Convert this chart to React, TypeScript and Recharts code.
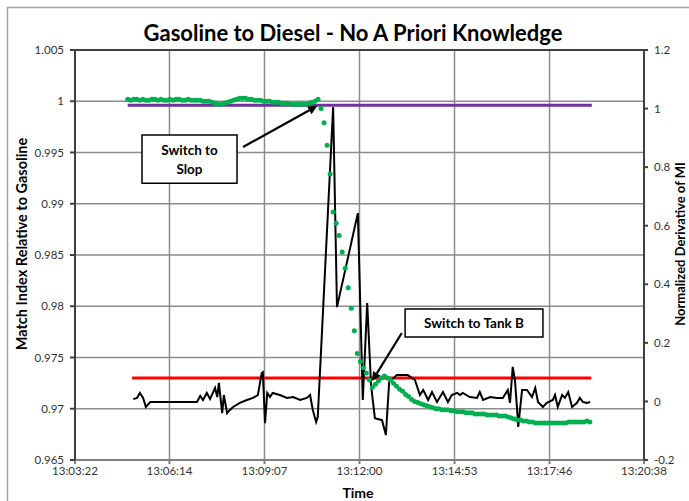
import {
  ComposedChart,
  XAxis,
  YAxis,
  CartesianGrid,
  Line,
  Scatter,
  ReferenceArea,
  ReferenceLine,
} from "recharts";

// x axis: clock time, plotted as seconds after the first tick
const timeTicks = ["13:03:22", "13:06:14", "13:09:07", "13:12:00", "13:14:53", "13:17:46", "13:20:38"];
const toSec = (s: string) => {
  const [h, m, sec] = s.split(":").map(Number);
  return h * 3600 + m * 60 + sec;
};
const t0 = toSec(timeTicks[0]);
const tickSecs = timeTicks.map((s) => toSec(s) - t0);

const matchTicks = [0.965, 0.97, 0.975, 0.98, 0.985, 0.99, 0.995, 1, 1.005];
const derivTicks = [-0.2, 0, 0.2, 0.4, 0.6, 0.8, 1, 1.2];

// match index (green), sampled every 5.5 s starting 96 s after 13:03:22
const matchStart = 96;
const matchStep = 5.5;
const matchIndex = [
  1.0002, 1.0001, 1.0002, 1.0002, 1.0001, 1.0002, 1.0001, 1.0001, 1.0002, 1.0002,
  1.0001, 1.0002, 1.0001, 1.0001, 1.0002, 1.0001, 1.0002, 1.0002, 1.0001, 1.0001,
  1.0002, 1.0001, 1.0001, 1.0001, 1.0001, 1.0, 1.0, 1.0,
  0.9999, 0.9998, 0.9997, 0.9997, 0.9998, 0.9999,
  1.0, 1.0001, 1.0002, 1.0003, 1.0003, 1.0003, 1.0002, 1.0002, 1.0001,
  1.0001, 1.0001, 1.0, 1.0, 1.0, 0.9999, 0.9999, 0.9999, 0.9998, 0.9998, 0.9998, 0.9997, 0.9997, 0.9997,
  0.9997, 0.9997, 0.9997, 0.9998, 0.9999, 1.0,
  1.0002,
  0.9993, 0.9979, 0.9957, 0.9929, 0.9892, 0.9881, 0.9869, 0.9853, 0.9837, 0.9818,
  0.9798, 0.9776, 0.9754, 0.9746, 0.974, 0.9735, 0.9728, 0.9721,
  0.9724, 0.9727, 0.973, 0.9732,
  0.973, 0.9728, 0.9725, 0.9722, 0.9719, 0.9717, 0.9714, 0.9712, 0.9709, 0.9707,
  0.9706, 0.9705, 0.9704, 0.9703, 0.9702, 0.9701, 0.97,
  0.97, 0.9699, 0.9699, 0.9699, 0.9698, 0.9698, 0.9697, 0.9697, 0.9697, 0.9696,
  0.9696, 0.9696, 0.9695, 0.9695, 0.9695,
  0.9695, 0.9694, 0.9694, 0.9694, 0.9694, 0.9693, 0.9693, 0.9693, 0.9692, 0.9691,
  0.969, 0.9689, 0.9689, 0.9688, 0.9688, 0.9687, 0.9687, 0.9686, 0.9686, 0.9686, 0.9686,
  0.9686, 0.9686, 0.9686, 0.9686, 0.9686, 0.9686, 0.9686, 0.9687, 0.9687, 0.9687,
  0.9687, 0.9687, 0.9687, 0.9688, 0.9687,
];

// normalized derivative of MI (black), right axis
const derivTimes = [
  106, 113, 118, 124, 129, 137, 149, 173, 222, 228, 233, 240, 246, 255, 259, 262, 268, 271,
  277, 282, 288, 300, 313, 324, 333, 340, 342, 346, 350, 355, 360, 373, 386, 397, 410, 422,
  428, 433, 439, 442, 470, 477, 515, 524, 532, 539, 546, 559, 566, 572, 586, 606, 619, 628,
  634, 643, 650, 659, 670, 679, 686, 696, 701, 706, 719, 732, 737, 743, 756, 768, 779, 788,
  792, 797, 801, 805, 807, 814, 823, 832, 838, 843, 852, 859, 870, 874, 879, 887, 892, 898,
  905, 914, 919, 925, 932, 938,
];
const derivValues = [
  0.008, 0.012, 0.029, 0.012, -0.019, -0.002, -0.002, -0.002, -0.002, 0.019, 0.005, 0.029,
  0.008, 0.046, 0.015, 0.063, -0.04, 0.022, -0.04, -0.029, -0.019, -0.005, 0.005, 0.012,
  0.022, 0.097, 0.1, -0.074, 0.029, 0.015, 0.029, 0.022, 0.012, 0.015, 0.005, 0.012, 0.022,
  -0.029, -0.07, -0.053, 1.005, 0.322, 0.643, 0.005, 0.336, 0.056, -0.057, -0.064, -0.115,
  0.066, 0.09, 0.09, 0.073, 0.022, 0.039, 0.005, 0.032, -0.002, 0.032, -0.002, 0.022, 0.029,
  0.022, 0.029, 0.015, 0.012, 0.032, 0.005, 0.015, 0.012, 0.012, 0.039, -0.005, 0.118,
  0.073, -0.029, -0.087, 0.039, 0.039, 0.015, 0.046, -0.002, -0.019, -0.005, 0.005, 0.022,
  -0.019, 0.022, 0.012, 0.032, -0.019, -0.005, 0.012, -0.002, -0.005, -0.002,
];

// threshold lines (left axis)
const slopLimit = 0.9996;
const slopRange = [96, 941];
const tankLimit = 0.973;
const tankRange = [104, 940];

// annotations, in data units (left axis)
const slopBox = { t1: 122, t2: 295, v1: 0.9967, v2: 0.992, lines: ["Switch to", "Slop"] };
const slopArrow = [{ x: 306, y: 0.99554 }, { x: 441, y: 0.99954 }];
const tankBox = { t1: 601, t2: 852, v1: 0.97973, v2: 0.977, lines: ["Switch to Tank B"] };
const tankArrow = [{ x: 595, y: 0.97739 }, { x: 541, y: 0.97271 }];

const greenData = matchIndex.map((v, i) => ({ t: matchStart + i * matchStep, v }));
const blackData = derivTimes.map((t, i) => ({ t, v: derivValues[i] }));
const purpleData = slopRange.map((t) => ({ t, v: slopLimit }));
const redData = tankRange.map((t) => ({ t, v: tankLimit }));

const FONT = "Lato, 'Open Sans', sans-serif";
const tickStyle = { fontSize: 11.5, fill: "#333", fontFamily: FONT };

const BoxLabel = (props: any) => {
  const { viewBox, lines } = props;
  const cx = viewBox.x + viewBox.width / 2;
  const cy = viewBox.y + viewBox.height / 2;
  const lh = 19;
  const top = cy - ((lines.length - 1) * lh) / 2;
  return (
    <text
      x={cx}
      textAnchor="middle"
      fontFamily={FONT}
      fontWeight="bold"
      fontSize={13.5}
      fill="#000"
    >
      {lines.map((l: string, i: number) => (
        <tspan key={i} x={cx} y={top + i * lh} dominantBaseline="central">
          {l}
        </tspan>
      ))}
    </text>
  );
};

const Arrow = (props: any) => {
  const { x1, y1, x2, y2 } = props;
  const a = Math.atan2(y2 - y1, x2 - x1);
  const len = 9;
  const w = 4.5;
  const bx = x2 - len * Math.cos(a);
  const by = y2 - len * Math.sin(a);
  const px = -Math.sin(a) * w;
  const py = Math.cos(a) * w;
  return (
    <g>
      <line x1={x1} y1={y1} x2={bx} y2={by} stroke="#000" strokeWidth={2.2} />
      <polygon points={`${x2},${y2} ${bx + px},${by + py} ${bx - px},${by - py}`} fill="#000" />
    </g>
  );
};

const Dot = (props: any) => (
  <circle cx={props.cx} cy={props.cy} r={2.5} fill="#00b050" />
);

export default function App() {
  return (
    <div style={{ position: "absolute", left: 0, top: 0, width: 689, height: 501, background: "#fff" }}>
      <ComposedChart width={689} height={501} margin={{ top: 50, right: 8, bottom: 11, left: 8 }}>
        <CartesianGrid stroke="#8c8c8c" strokeWidth={1.5} yAxisId="left" />
        <XAxis
          type="number"
          dataKey="t"
          domain={[0, tickSecs[tickSecs.length - 1]]}
          ticks={tickSecs}
          tickFormatter={(v: number) => timeTicks[tickSecs.indexOf(v)] ?? ""}
          height={30}
          tick={tickStyle}
          tickSize={4}
          tickMargin={3}
          stroke="#7f7f7f"
          strokeWidth={2}
          interval={0}
        />
        <YAxis
          yAxisId="left"
          domain={[0.965, 1.005]}
          ticks={matchTicks}
          tickFormatter={(v: number) => String(+v.toFixed(3))}
          width={67}
          tick={tickStyle}
          tickSize={5}
          tickMargin={6}
          stroke="#404040"
          strokeWidth={2}
          interval={0}
          allowDataOverflow
        />
        <YAxis
          yAxisId="right"
          orientation="right"
          domain={[-0.2, 1.2]}
          ticks={derivTicks}
          tickFormatter={(v: number) => String(+v.toFixed(1))}
          width={37}
          tick={tickStyle}
          tickSize={4}
          tickMargin={6}
          stroke="#404040"
          strokeWidth={2}
          interval={0}
          allowDataOverflow
        />
        <ReferenceLine yAxisId="left" y={1.005} stroke="#404040" strokeWidth={2} />
        <Line
          yAxisId="left"
          data={redData}
          dataKey="v"
          stroke="#ff0000"
          strokeWidth={3}
          dot={false}
          isAnimationActive={false}
        />
        <Line
          yAxisId="left"
          data={purpleData}
          dataKey="v"
          stroke="#7030a0"
          strokeWidth={3}
          dot={false}
          isAnimationActive={false}
        />
        <Scatter
          yAxisId="left"
          data={greenData}
          dataKey="v"
          shape={Dot}
          isAnimationActive={false}
        />
        <Line
          yAxisId="right"
          data={blackData}
          dataKey="v"
          type="linear"
          stroke="#000"
          strokeWidth={2}
          dot={false}
          isAnimationActive={false}
        />
        <ReferenceArea
          yAxisId="left"
          x1={slopBox.t1}
          x2={slopBox.t2}
          y1={slopBox.v2}
          y2={slopBox.v1}
          fill="#fff"
          fillOpacity={1}
          stroke="#000"
          strokeWidth={1.5}
          label={<BoxLabel lines={slopBox.lines} />}
        />
        <ReferenceArea
          yAxisId="left"
          x1={tankBox.t1}
          x2={tankBox.t2}
          y1={tankBox.v2}
          y2={tankBox.v1}
          fill="#fff"
          fillOpacity={1}
          stroke="#000"
          strokeWidth={1.5}
          label={<BoxLabel lines={tankBox.lines} />}
        />
        <ReferenceLine yAxisId="left" segment={slopArrow} shape={Arrow} />
        <ReferenceLine yAxisId="left" segment={tankArrow} shape={Arrow} />
      </ComposedChart>
      <svg
        width={689}
        height={501}
        style={{ position: "absolute", left: 0, top: 0, pointerEvents: "none" }}
        fontFamily={FONT}
      >
        <rect x={7.5} y={7.5} width={720} height={520} fill="none" stroke="#a6a6a6" strokeWidth={1.5} />
        <text x={353} y={32} textAnchor="middle" dominantBaseline="central" fontSize={22} fontWeight="bold" fill="#000">
          Gasoline to Diesel - No A Priori Knowledge
        </text>
        <text
          transform="translate(21,244) rotate(-90)"
          textAnchor="middle"
          dominantBaseline="central"
          fontSize={14.5}
          fontWeight="bold"
          fill="#000"
        >
          Match Index Relative to Gasoline
        </text>
        <text
          transform="translate(680,244) rotate(-90)"
          textAnchor="middle"
          dominantBaseline="central"
          fontSize={13}
          fontWeight="bold"
          fill="#000"
        >
          Normalized Derivative of MI
        </text>
        <text x={358} y={492} textAnchor="middle" dominantBaseline="central" fontSize={14} fontWeight="bold" fill="#000">
          Time
        </text>
      </svg>
    </div>
  );
}
